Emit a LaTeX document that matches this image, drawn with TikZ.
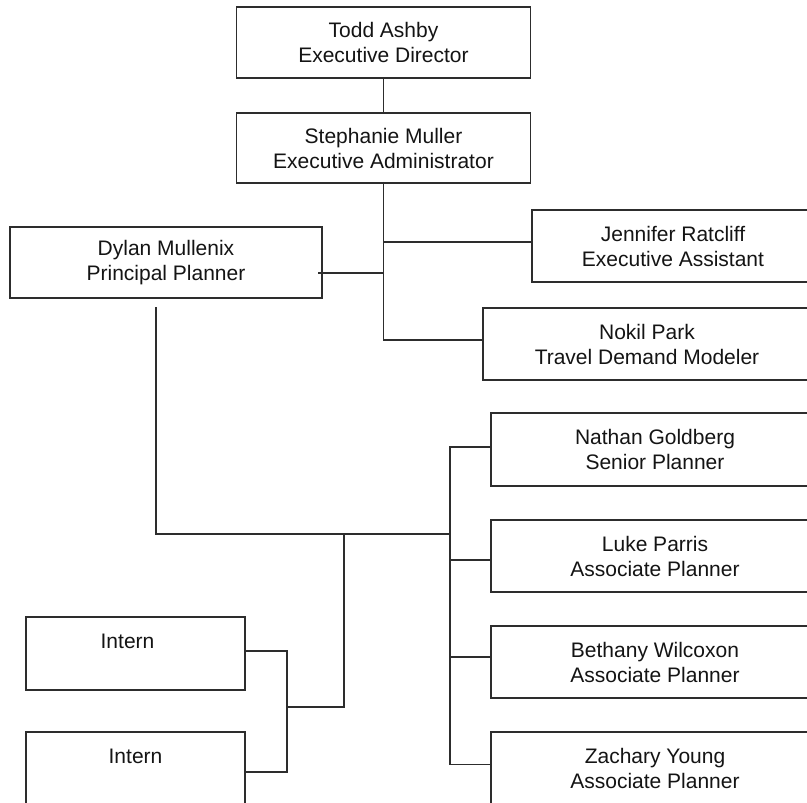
\documentclass[tikz,border=0pt]{standalone}
\usepackage{fontspec}
\setmainfont{Liberation Sans}
\definecolor{ln}{RGB}{45,45,45}
\definecolor{tx}{RGB}{20,20,20}
\begin{document}
\begin{tikzpicture}[x=1pt,y=-1pt,
  box/.style={draw=ln,line width=1.5pt,fill=white,rectangle,inner sep=0pt,align=center,
    text=tx,font=\fontsize{21}{25}\selectfont},
  conn/.style={draw=ln,line width=1.5pt}]
\useasboundingbox (0,0) rectangle (807,803);
\clip (0,0) rectangle (807,803);
\fill[white] (0,0) rectangle (807,803);
% boxes
\node[box,minimum width=294pt,minimum height=71pt] (todd) at (383.5,42.5) {Todd Ashby\\Executive Director};
\node[box,minimum width=294pt,minimum height=70pt] (steph) at (383.5,148) {Stephanie Muller\\Executive Administrator};
\node[box,minimum width=312pt,minimum height=71pt] (dylan) at (166,262.5) {Dylan Mullenix\\Principal Planner};
\node[box,minimum width=282pt,minimum height=72pt] (jen) at (673,246) {Jennifer Ratcliff\\Executive Assistant};
\node[box,minimum width=328pt,minimum height=72pt] (nokil) at (647,344) {Nokil Park\\Travel Demand Modeler};
\node[box,minimum width=328pt,minimum height=73pt] (nathan) at (655,449.5) {Nathan Goldberg\\Senior Planner};
\node[box,minimum width=328pt,minimum height=72pt] (luke) at (655,556) {Luke Parris\\Associate Planner};
\node[box,minimum width=328pt,minimum height=72pt] (beth) at (655,662) {Bethany Wilcoxon\\Associate Planner};
\node[box,minimum width=328pt,minimum height=73pt] (zach) at (655,768.5) {Zachary Young\\Associate Planner};
\node[box,minimum width=219pt,minimum height=73pt] (int1) at (135.5,653.5) {Intern\hspace*{16pt}\\~};
\node[box,minimum width=219pt,minimum height=73pt] (int2) at (135.5,768.5) {Intern\\~};
% named points
\coordinate (dy) at (318,273);
\coordinate (dd) at (156,307);
\coordinate (hub) at (450,534);
\coordinate (ih) at (344,534);
\coordinate (ij) at (287,707);
% connectors
\draw[conn] (todd.south) -- (steph.south |- todd.south) -- (steph.north);
\draw[conn] ([yshift=2pt]steph.south) |- ([yshift=4pt]nokil.west);
\draw[conn] ([yshift=4pt]jen.west) -- ([yshift=4pt]jen.west -| steph.south);
\draw[conn] (dy) -- (dy -| steph.south);
\draw[conn] (dd) |- (hub);
\draw[conn] (hub) |- ([yshift=2.5pt]nathan.west);
\draw[conn] (hub) |- ([yshift=-4pt]luke.west);
\draw[conn] (hub) |- ([yshift=5pt]beth.west);
\draw[conn] (hub) |- ([yshift=4pt]zach.west);
\draw[conn] (ih) |- (ij);
\draw[conn] ([yshift=2.5pt]int1.east) -| (ij);
\draw[conn] ([yshift=-3.5pt]int2.east) -| (ij);
\end{tikzpicture}
\end{document}
